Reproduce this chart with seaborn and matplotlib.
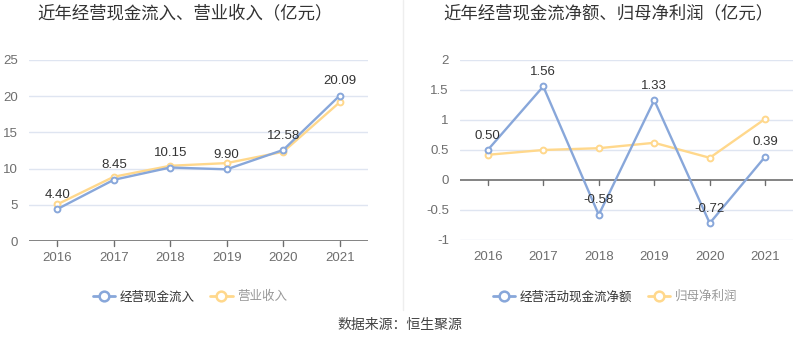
import numpy as np
import pandas as pd
import seaborn as sns
import matplotlib.pyplot as plt
from matplotlib.lines import Line2D

years = ["2016", "2017", "2018", "2019", "2020", "2021"]
cash_inflow = [4.40, 8.45, 10.15, 9.90, 12.58, 20.09]
revenue = [5.06, 8.87, 10.39, 10.76, 12.32, 19.17]
net_cash = [0.50, 1.56, -0.58, 1.33, -0.72, 0.39]
net_profit = [0.42, 0.50, 0.53, 0.62, 0.37, 1.02]

left_names = ["经营现金流入", "营业收入"]
right_names = ["经营活动现金流净额", "归母净利润"]

BLUE = "#88a7da"
ORANGE = "#ffd88c"
GRID = "#dfe5f1"
TICK = "#6e6e6e"

sns.set_theme(style="white")
plt.rcParams["font.family"] = ["Liberation Sans", "Noto Sans CJK SC", "DejaVu Sans"]
plt.rcParams["axes.unicode_minus"] = False

fig = plt.figure(figsize=(8, 3.58), dpi=100)
W, H = 800, 358


def px_axes(x0, y0, x1, y1):
    return fig.add_axes([x0 / W, 1 - y1 / H, (x1 - x0) / W, (y1 - y0) / H])


def draw(ax, s1, s2, names, ylim, yticks, zero_line):
    df = pd.DataFrame({"year": years, names[0]: s1, names[1]: s2})
    long = df.melt("year", var_name="series", value_name="value")
    sns.lineplot(data=long, x="year", y="value", hue="series",
                 hue_order=[names[1], names[0]],
                 palette={names[0]: BLUE, names[1]: ORANGE},
                 marker="o", markersize=4.2, markerfacecolor="white",
                 markeredgewidth=1.4, linewidth=1.7, legend=False, ax=ax)
    for line in ax.lines:
        line.set_markeredgecolor(line.get_color())
    ax.set_xlim(-0.5, len(years) - 0.5)
    ax.set_ylim(*ylim)
    ax.set_yticks(yticks)
    ax.set_yticklabels([f"{t:g}" for t in yticks])
    ax.set_xlabel("")
    ax.set_ylabel("")
    for t in yticks:
        if t != zero_line:
            ax.axhline(t, color=GRID, lw=1, zorder=0)
    ax.axhline(zero_line, color="#6e6e6e", lw=1.2, zorder=1)
    for sp in ax.spines.values():
        sp.set_visible(False)
    ax.tick_params(axis="y", length=0, labelsize=9.5, colors=TICK, pad=8)
    ax.tick_params(axis="x", length=0, labelsize=9.5, colors=TICK, pad=8)
    for i in range(len(years)):
        ax.plot([i, i], [zero_line, zero_line - (ylim[1] - ylim[0]) * 0.028],
                color="#6e6e6e", lw=1, clip_on=False, zorder=1)
    for i, v in enumerate(s1):
        ax.annotate(f"{v:.2f}", (i, v), xytext=(0, 6), textcoords="offset points",
                    ha="center", va="bottom", fontsize=9.5, color="#333333")


ax1 = px_axes(29, 60, 368, 241)
draw(ax1, cash_inflow, revenue, left_names, (0, 25), [0, 5, 10, 15, 20, 25], 0)
ax2 = px_axes(460, 60, 793, 240)
draw(ax2, net_cash, net_profit, right_names, (-1, 2), [-1, -0.5, 0, 0.5, 1, 1.5, 2], 0)

fig.text(185 / W, 1 - 13 / H, "近年经营现金流入、营业收入（亿元）", ha="center", va="center",
         fontsize=12.5, color="#333333")
fig.text(608 / W, 1 - 13 / H, "近年经营现金流净额、归母净利润（亿元）", ha="center", va="center",
         fontsize=12.5, color="#333333")

fig.add_artist(Line2D([403 / W, 403 / W], [1 - 310 / H, 1], color="#eeeeee", lw=1))


def legend(names, cx):
    handles = [Line2D([], [], color=BLUE, lw=2, marker="o", markersize=7,
                      markerfacecolor="white", markeredgewidth=1.8),
               Line2D([], [], color=ORANGE, lw=2, marker="o", markersize=7,
                      markerfacecolor="white", markeredgewidth=1.8)]
    lg = fig.legend(handles, names, loc="center", bbox_to_anchor=(cx / W, 1 - 297 / H),
                    ncol=2, frameon=False, fontsize=9, handlelength=1.8,
                    handletextpad=0.4, columnspacing=1.2)
    lg.get_texts()[0].set_color("#333333")
    lg.get_texts()[1].set_color("#999999")


legend(left_names, 190)
legend(right_names, 615)

fig.text(0.5, 1 - 325 / H, "数据来源：恒生聚源", ha="center", va="center",
         fontsize=10, color="#444444")

fig.savefig("out.png", dpi=100)
